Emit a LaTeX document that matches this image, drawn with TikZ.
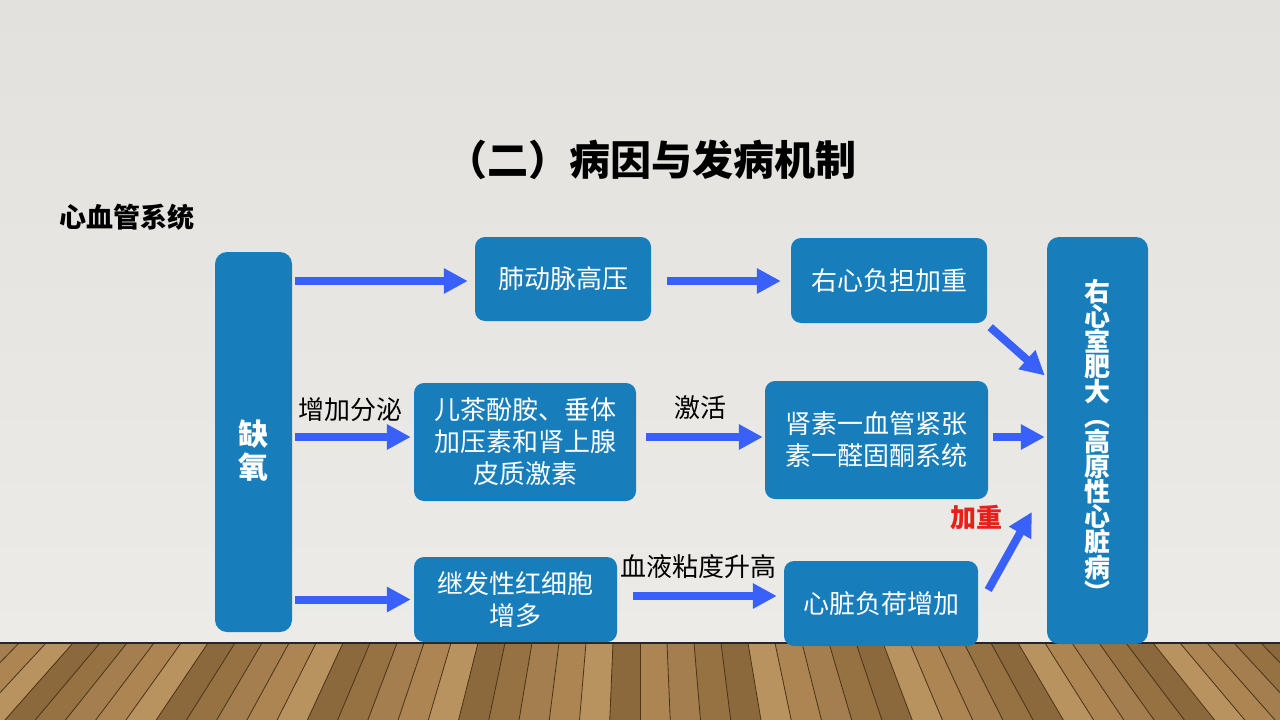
\documentclass[tikz,border=0pt]{standalone}
\usepackage{fontspec}
\setmainfont{Noto Sans CJK SC}
\usetikzlibrary{arrows.meta}
\definecolor{boxblue}{HTML}{177EBB}
\definecolor{arrblue}{HTML}{3A60FA}
\definecolor{wallA}{HTML}{E3E1DE}
\definecolor{wallB}{HTML}{ECEBE8}
\definecolor{wood0}{HTML}{A47E4E}
\definecolor{wood1}{HTML}{B8935F}
\definecolor{wood2}{HTML}{967142}
\definecolor{wood3}{HTML}{AC8553}
\definecolor{wood4}{HTML}{8C693C}
\definecolor{woodline}{HTML}{4A3318}
\definecolor{accent}{HTML}{E8201A}
\begin{document}
\begin{tikzpicture}[x=1pt,y=-1pt,
  box/.style={rectangle, rounded corners=10pt, fill=boxblue, text=white, inner sep=0pt, align=center, font=\fontsize{26}{32}\selectfont},
  arr/.style={arrblue, line width=8pt, -{Triangle[length=24pt,width=24pt]}},
  lbl/.style={font=\fontsize{26}{30}\selectfont, text=black, inner sep=0pt},
  vtext/.style={text=white, align=center, inner sep=0pt}]
\useasboundingbox (0,0) rectangle (1280,720);
% wall
\shade[top color=wallA, bottom color=wallB] (0,0) rectangle (1280,643);
% floor
\begin{scope}
\clip (0,643) rectangle (1280,720);
\fill[wood2] (0,643) rectangle (1280,720);
\foreach \i in {-26,...,26} {
  \pgfmathsetmacro\xa{640+\i*27}
  \pgfmathsetmacro\xb{640+\i*27*1.12}
  \pgfmathsetmacro\xc{640+(\i+1)*27}
  \pgfmathsetmacro\xd{640+(\i+1)*27*1.12}
  \pgfmathtruncatemacro\k{mod(abs(\i*7+3),5)}
  \fill[wood\k] (\xa,643) -- (\xc,643) -- (\xd,720) -- (\xb,720) -- cycle;
  \draw[woodline, line width=0.8pt] (\xa,643) -- (\xb,720);
}
\end{scope}
\fill[black!85] (0,642) rectangle (1280,644);
% titles
\node[font=\fontsize{41}{48}\selectfont\bfseries, inner sep=0pt] (title) at (651,160) {（二）病因与发病机制};
\node[font=\fontsize{27}{30}\selectfont\bfseries, inner sep=0pt] (sub) at (126.5,217) {心血管系统};
% boxes
\node[box, rounded corners=12pt, minimum width=77pt, minimum height=380pt] (q) at (253.5,442) {};
\node[vtext, font=\fontsize{30}{33}\selectfont\bfseries] (qt) at (253.5,451) {缺\\氧};
\node[box, minimum width=176pt, minimum height=84pt] (b1) at (563,279) {肺动脉高压};
\node[box, minimum width=196pt, minimum height=85pt] (b2) at (889,280.5) {右心负担加重};
\node[box, minimum width=222pt, minimum height=118pt] (b3) at (525,442) {儿茶酚胺、垂体\\加压素和肾上腺\\皮质激素};
\node[box, minimum width=223pt, minimum height=118pt] (b4) at (876.5,440) {肾素一血管紧张\\素一醛固酮系统};
\node[box, minimum width=203pt, minimum height=85pt] (b5) at (515.5,599.5) {继发性红细胞\\增多};
\node[box, minimum width=194pt, minimum height=85pt] (b6) at (881,603.5) {心脏负荷增加};
\node[box, rounded corners=12pt, minimum width=101pt, minimum height=407pt] (r) at (1097.5,440.5) {};
\node[vtext, font=\fontsize{26}{25}\selectfont\bfseries] (rt) at (1097.5,440.5) {右\\心\\室\\肥\\大\\︵\\高\\原\\性\\心\\脏\\病\\︶};
% arrows
\draw[arr] ([xshift=3pt,yshift=-2pt]q.east |- b1.west) -- ([xshift=-7pt,yshift=-2pt]b1.west);
\draw[arr] ([xshift=16pt,yshift=-2pt]b1.east) -- ([xshift=-10pt,yshift=-2pt]b1.east -| b2.west);
\draw[arr] ([xshift=3pt,yshift=-4pt]b2.south east) -- ([xshift=-2pt,yshift=65pt]r.west);
\draw[arr] ([xshift=3pt,yshift=5pt]q.east |- b3.west) -- ([xshift=-3pt,yshift=5pt]b3.west);
\draw[arr] ([xshift=10pt,yshift=5pt]b3.east) -- ([xshift=-2pt,yshift=5pt]b3.east -| b4.west);
\draw[arr] ([xshift=5pt,yshift=5pt]b3.east -| b4.east) -- ([xshift=-2pt,yshift=5pt]b3.east -| r.west);
\draw[arr] ([xshift=3pt]q.east |- b5.west) -- ([xshift=-3pt]b5.west);
\draw[arr] ([xshift=16pt,yshift=3.5pt]b5.east) -- ([xshift=-7pt,yshift=3.5pt]b5.east -| b6.west);
\draw[arr] ([xshift=10pt,yshift=13.5pt]b6.east) -- ([xshift=-15pt,yshift=-71.5pt]r.west);
% labels
\node[lbl] (l1) at (350,410) {增加分泌};
\node[lbl] (l2) at (700,408) {激活};
\node[lbl] (l3) at (698,567) {血液粘度升高};
\node[lbl, text=accent, font=\fontsize{26}{30}\selectfont\bfseries] (l4) at (976,518) {加重};
\end{tikzpicture}
\end{document}
